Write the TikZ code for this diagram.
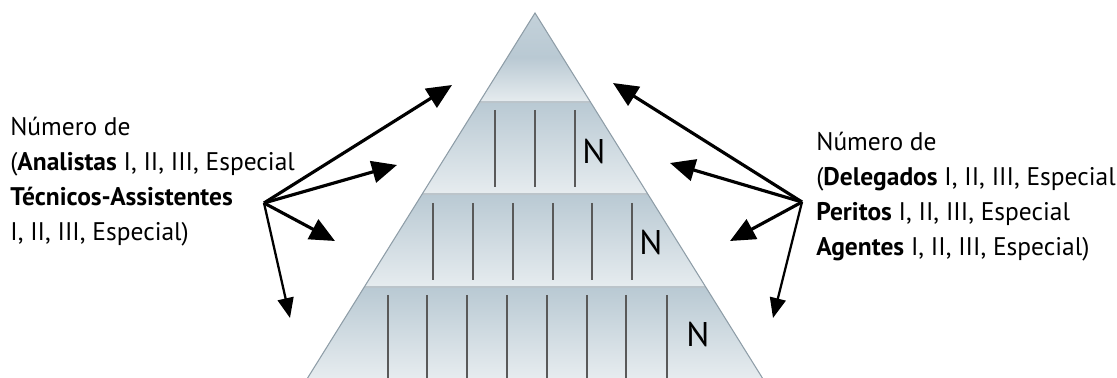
\documentclass[tikz,border=0pt]{standalone}
\usepackage{fontspec}
\setmainfont{PT Sans}
\newfontfamily\letraN{PT Sans}
\usetikzlibrary{arrows.meta}

\definecolor{faixaTopo}{HTML}{B9C9D3}
\definecolor{faixaBase}{HTML}{E6ECEF}
\definecolor{contorno}{HTML}{8E9DA7}

\begin{document}
\begin{tikzpicture}[x=0.02cm, y=-0.02cm, % 1 unidade = 1 pixel, y para baixo
                every node/.style={font=\fontsize{14.5}{19.9}\selectfont} % fonte dos textos
            ]
            \useasboundingbox (0,0) rectangle (1117,378);

            % vertices da piramide
            \coordinate (Topo) at (535,13);
            \coordinate (BaseE) at (307.6,378);
            \coordinate (BaseD) at (762.4,378);

            % faixas com degrade
            \begin{scope}
                \clip (Topo) -- (BaseE) -- (BaseD) -- cycle;
                \shade[top color=faixaTopo!85, bottom color=faixaBase, middle color=faixaTopo] (300,13) rectangle (770,102);
                \shade[top color=faixaTopo, bottom color=faixaBase] (300,102) rectangle (770,194);
                \shade[top color=faixaTopo, bottom color=faixaBase] (300,194) rectangle (770,287);
                \shade[top color=faixaTopo, bottom color=faixaBase] (300,287) rectangle (770,378);
            \end{scope}

            % linhas entre as faixas
            \draw[contorno!60, line width=0.6pt] (479.6,102) -- (590.4,102);
            \draw[contorno!60, line width=0.6pt] (422.2,194) -- (647.8,194);
            \draw[contorno!60, line width=0.6pt] (364.3,287) -- (705.7,287);

            % contorno
            \draw[contorno, line width=0.6pt] (BaseE) -- (Topo) -- (BaseD);

            % tracos verticais (um por cargo)
            \draw[black!65, line width=0.8pt] (495,110) -- (495,187) (535,110) -- (535,187) (575,110) -- (575,187);
            \draw[black!65, line width=0.8pt] (433,203) -- (433,280) (473,203) -- (473,280) (513,203) -- (513,280)
                (553,203) -- (553,280) (592,203) -- (592,280) (632,203) -- (632,280);
            \draw[black!65, line width=0.8pt] (388,295) -- (388,378) (427,295) -- (427,378) (467,295) -- (467,378)
                (507,295) -- (507,378) (547,295) -- (547,378) (587,295) -- (587,378) (626,295) -- (626,378)
                (667,295) -- (667,378);

            % rotulos N
            \node[font=\letraN\fontsize{19.5}{20}\selectfont, inner sep=0pt] (N1) at (594,152) {N};
            \node[font=\letraN\fontsize{19.5}{20}\selectfont, inner sep=0pt] (N2) at (651,243) {N};
            \node[font=\letraN\fontsize{19.5}{20}\selectfont, inner sep=0pt] (N3) at (698,335) {N};

            % textos laterais
            \node[anchor=north west, align=left, inner sep=0pt] (TextoE) at (10,117)
                {Número de\\(\textbf{Analistas} I, II, III, Especial\\\textbf{Técnicos-Assistentes}\\I, II, III, Especial)};
            \node[anchor=north west, align=left, inner sep=0pt] (TextoD) at (816,132)
                {Número de\\(\textbf{Delegados} I, II, III, Especial\\\textbf{Peritos} I, II, III, Especial\\\textbf{Agentes} I, II, III, Especial)};

            % origens e pontas das setas
            \coordinate (OrigemE) at (264,203);
            \coordinate (OrigemD) at (802,202);
            \coordinate (PontaE1) at (452,85);
            \coordinate (PontaE2) at (397,165);
            \coordinate (PontaE3) at (335,241);
            \coordinate (PontaE4) at (290,318);
            \coordinate (PontaD1) at (613,83);
            \coordinate (PontaD2) at (670,163);
            \coordinate (PontaD3) at (730,241);
            \coordinate (PontaD4) at (773,318);

            \draw[line width=1.8pt, -{Triangle[length=0.5cm, width=0.44cm]}] (OrigemE) -- (PontaE1);
            \draw[line width=1.8pt, -{Triangle[length=0.5cm, width=0.44cm]}] (OrigemE) -- (PontaE2);
            \draw[line width=1.8pt, -{Triangle[length=0.5cm, width=0.44cm]}] (OrigemE) -- (PontaE3);
            \draw[line width=1.3pt, -{Triangle[length=0.4cm, width=0.32cm]}] (OrigemE) -- (PontaE4);
            \draw[line width=1.8pt, -{Triangle[length=0.5cm, width=0.44cm]}] (OrigemD) -- (PontaD1);
            \draw[line width=1.8pt, -{Triangle[length=0.5cm, width=0.44cm]}] (OrigemD) -- (PontaD2);
            \draw[line width=1.8pt, -{Triangle[length=0.5cm, width=0.44cm]}] (OrigemD) -- (PontaD3);
            \draw[line width=1.3pt, -{Triangle[length=0.4cm, width=0.32cm]}] (OrigemD) -- (PontaD4);

        \end{tikzpicture}
\end{document}
